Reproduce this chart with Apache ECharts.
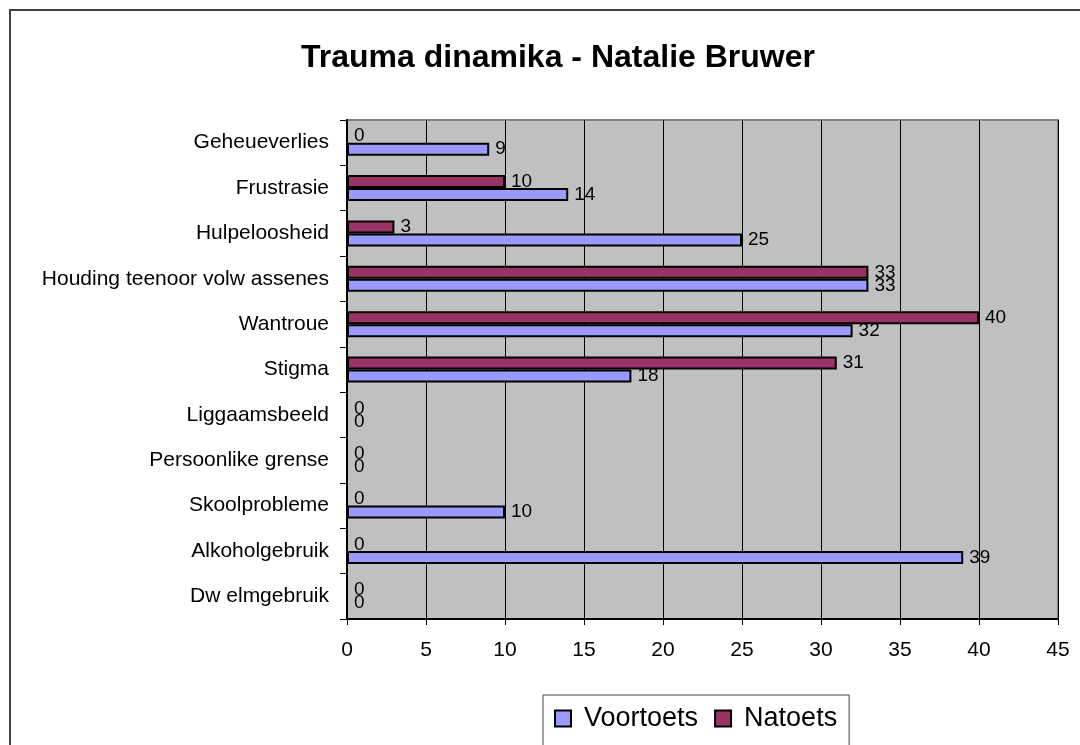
<!DOCTYPE html>
<html>
<head>
<meta charset="utf-8">
<script src="https://cdn.jsdelivr.net/npm/echarts@6/dist/echarts.min.js"></script>
<style>
html, body { margin: 0; padding: 0; background: #fff; }
#chart { width: 1080px; height: 745px; }
</style>
</head>
<body>
<div id="chart"></div>
<script>
// categories, top to bottom
var categories = ['Geheueverlies', 'Frustrasie', 'Hulpeloosheid', 'Houding teenoor volw assenes', 'Wantroue',
    'Stigma', 'Liggaamsbeeld', 'Persoonlike grense', 'Skoolprobleme', 'Alkoholgebruik', 'Dw elmgebruik'];
var voortoets = [9, 14, 25, 33, 32, 18, 0, 0, 10, 39, 0];
var natoets = [0, 10, 3, 33, 40, 31, 0, 0, 0, 0, 0];

var font = "'Liberation Sans', Arial, sans-serif";
var myChart = echarts.init(document.getElementById('chart'));

var labelStyle = {
    show: true,
    position: 'right',
    distance: 6,
    color: '#000',
    fontFamily: font,
    fontSize: 19
};

var option = {
    backgroundColor: '#fff',
    animation: false,
    title: {
        text: 'Trauma dinamika - Natalie Bruwer',
        left: 553,
        textAlign: 'center',
        top: 37,
        textStyle: { fontFamily: font, fontSize: 32, fontWeight: 'bold', color: '#000' }
    },
    graphic: [{
        type: 'rect',
        shape: { x: 10, y: 10, width: 1100, height: 800 },
        style: { fill: 'none', stroke: '#404040', lineWidth: 2 },
        silent: true
    }],
    legend: {
        data: ['Voortoets', 'Natoets'],
        left: 543,
        top: 695,
        orient: 'horizontal',
        icon: 'rect',
        itemWidth: 16,
        itemHeight: 16,
        itemGap: 16,
        padding: [10, 12, 20, 11],
        borderColor: '#404040',
        borderWidth: 1,
        backgroundColor: '#fff',
        textStyle: { fontFamily: font, fontSize: 27, color: '#000', padding: [0, 0, 0, 8] }
    },
    grid: {
        left: 347,
        right: 22,
        top: 120,
        bottom: 126,
        show: true,
        backgroundColor: '#C0C0C0',
        borderColor: '#808080',
        borderWidth: 2
    },
    xAxis: {
        type: 'value',
        min: 0,
        max: 45,
        interval: 5,
        axisLine: { show: true, lineStyle: { color: '#000', width: 2 } },
        axisTick: { show: true, length: 6, lineStyle: { color: '#000' } },
        axisLabel: { color: '#000', fontFamily: font, fontSize: 21, margin: 21 },
        splitLine: { show: true, lineStyle: { color: '#000', width: 1 } }
    },
    yAxis: {
        type: 'category',
        inverse: true,
        data: categories,
        axisLine: { show: true, lineStyle: { color: '#000', width: 2 } },
        axisTick: { show: true, length: 7, lineStyle: { color: '#000' } },
        axisLabel: { color: '#000', fontFamily: font, fontSize: 21, margin: 18 },
        splitLine: { show: false }
    },
    series: [
        {
            name: 'Natoets',
            type: 'bar',
            barWidth: 13,
            barGap: '0%',
            itemStyle: { color: '#993366', borderColor: '#000', borderWidth: 2 },
            label: labelStyle,
            data: natoets
        },
        {
            name: 'Voortoets',
            type: 'bar',
            barWidth: 13,
            barGap: '0%',
            itemStyle: { color: '#9999FF', borderColor: '#000', borderWidth: 2 },
            label: labelStyle,
            data: voortoets
        }
    ]
};

myChart.setOption(option);
</script>
</body>
</html>
